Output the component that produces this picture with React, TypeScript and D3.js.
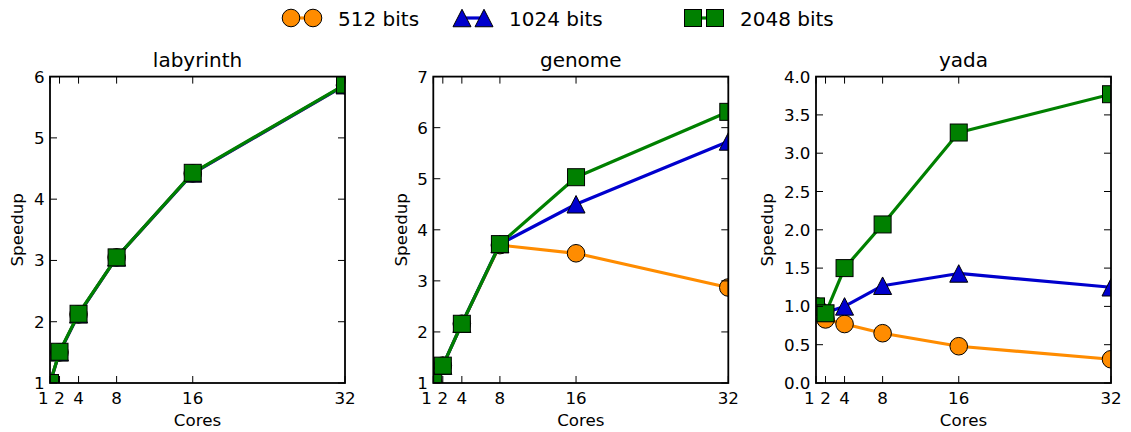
import React from "react";
import * as d3 from "d3";

// ---------- data ----------
const cores = [1, 2, 4, 8, 16, 32];
const xTicks = [1, 2, 4, 8, 16, 32];
const seriesNames = ["512 bits", "1024 bits", "2048 bits"];
const seriesColors = ["#FF8C00", "#0000CD", "#008000"];
const seriesMarkers = ["circle", "triangle", "square"];

const labyrinth512 = [1.0, 1.5, 2.12, 3.05, 4.42, 5.86];
const labyrinth1024 = [1.0, 1.5, 2.12, 3.05, 4.42, 5.86];
const labyrinth2048 = [1.0, 1.51, 2.13, 3.05, 4.43, 5.87];

const genome512 = [1.0, 1.34, 2.16, 3.7, 3.54, 2.87];
const genome1024 = [1.0, 1.34, 2.16, 3.72, 4.5, 5.73];
const genome2048 = [1.0, 1.34, 2.16, 3.72, 5.03, 6.31];

const yada512 = [1.0, 0.83, 0.77, 0.65, 0.48, 0.31];
const yada1024 = [1.0, 0.92, 1.0, 1.27, 1.43, 1.25];
const yada2048 = [1.0, 0.91, 1.5, 2.07, 3.27, 3.77];

const labyrinthTicks = [1, 2, 3, 4, 5, 6];
const genomeTicks = [1, 2, 3, 4, 5, 6, 7];
const yadaTicks = [0, 0.5, 1, 1.5, 2, 2.5, 3, 3.5, 4];

const panels = [
  { title: "labyrinth", series: [labyrinth512, labyrinth1024, labyrinth2048], yDomain: [1, 6], yTicks: labyrinthTicks, fmt: (v: number) => String(v) },
  { title: "genome", series: [genome512, genome1024, genome2048], yDomain: [1, 7], yTicks: genomeTicks, fmt: (v: number) => String(v) },
  { title: "yada", series: [yada512, yada1024, yada2048], yDomain: [0, 4], yTicks: yadaTicks, fmt: (v: number) => v.toFixed(1) },
];

// ---------- layout ----------
const W = 1131;
const H = 432;
const panelLefts = [50, 433.3, 816];
const panelWidth = 295;
const top = 76.6;
const bottom = 383;
const FONT = "DejaVu Sans, sans-serif";
const tickLen = 7;
const TICK_FS = 16.7;
const LABEL_FS = 16.7;
const TITLE_FS = 20;

function Marker({ type, x, y, color }: { type: string; x: number; y: number; color: string }) {
  const s = 17;
  if (type === "circle") return <circle cx={x} cy={y} r={s / 2 + 0.3} fill={color} stroke="#000" strokeWidth={1} />;
  if (type === "square") return <rect x={x - s / 2} y={y - s / 2} width={s} height={s} fill={color} stroke="#000" strokeWidth={1} />;
  const h = 17.5;
  const w = 18;
  const pts = `${x},${y - h / 2} ${x - w / 2},${y + h / 2} ${x + w / 2},${y + h / 2}`;
  return <polygon points={pts} fill={color} stroke="#000" strokeWidth={1} />;
}

function digitWidth(label: string, fs: number) {
  let w = 0;
  for (const c of label) w += c === "." ? 0.318 : 0.636;
  return w * fs;
}

function Panel({ idx }: { idx: number }) {
  const p = panels[idx];
  const left = panelLefts[idx];
  const right = left + panelWidth;
  const x = d3.scaleLinear().domain([1, 32]).range([left, right]);
  const y = d3.scaleLinear().domain(p.yDomain).range([bottom, top]);
  const line = d3
    .line<number>()
    .x((_, i) => x(cores[i]))
    .y((d) => y(d));
  const clipId = `clip-${idx}`;
  const maxW = Math.max(...p.yTicks.map((t) => digitWidth(p.fmt(t), TICK_FS)));
  const ylabelX = left - maxW - 16;
  const cy = (top + bottom) / 2;
  return (
    <g>
      <defs>
        <clipPath id={clipId}>
          <rect x={left} y={top} width={right - left} height={bottom - top} />
        </clipPath>
      </defs>
      <g clipPath={`url(#${clipId})`}>
        {p.series.map((vals, si) => (
          <g key={si}>
            <path d={line(vals) || ""} fill="none" stroke={seriesColors[si]} strokeWidth={3.2} strokeLinejoin="round" />
            {vals.map((v, i) => (
              <Marker key={i} type={seriesMarkers[si]} x={x(cores[i])} y={y(v)} color={seriesColors[si]} />
            ))}
          </g>
        ))}
      </g>
      {xTicks.map((t, i) => (
        <g key={"xt" + t}>
          <line x1={x(t)} x2={x(t)} y1={bottom} y2={bottom - tickLen} stroke="#000" strokeWidth={1} />
          <line x1={x(t)} x2={x(t)} y1={top} y2={top + tickLen} stroke="#000" strokeWidth={1} />
          <text x={x(t)} dx={i === 0 ? -6.8 : 0} y={404} textAnchor="middle" fontFamily={FONT} fontSize={TICK_FS} fill="#000">
            {t}
          </text>
        </g>
      ))}
      {p.yTicks.map((t) => (
        <g key={"yt" + t}>
          <line x1={left} x2={left + tickLen} y1={y(t)} y2={y(t)} stroke="#000" strokeWidth={1} />
          <line x1={right} x2={right - tickLen} y1={y(t)} y2={y(t)} stroke="#000" strokeWidth={1} />
          <text x={left - 5.5} y={y(t)} dy="0.36em" textAnchor="end" fontFamily={FONT} fontSize={TICK_FS} fill="#000">
            {p.fmt(t)}
          </text>
        </g>
      ))}
      <rect x={left} y={top} width={right - left} height={bottom - top} fill="none" stroke="#000" strokeWidth={1.8} />
      <text x={(left + right) / 2} y={67} textAnchor="middle" fontFamily={FONT} fontSize={TITLE_FS} fill="#000">
        {p.title}
      </text>
      <text x={(left + right) / 2} y={425.5} textAnchor="middle" fontFamily={FONT} fontSize={LABEL_FS} fill="#000">
        Cores
      </text>
      <text
        transform={`translate(${ylabelX},${cy}) rotate(-90)`}
        textAnchor="middle"
        fontFamily={FONT}
        fontSize={LABEL_FS}
        fill="#000"
      >
        Speedup
      </text>
    </g>
  );
}

const legendX = [291, 462, 693];

export default function App() {
  return (
    <svg width={W} height={H} style={{ position: "absolute", left: 0, top: 0, background: "#fff" }}>
      <rect x={0} y={0} width={W} height={H} fill="#fff" />
      {panels.map((_, i) => (
        <Panel key={i} idx={i} />
      ))}
      {seriesNames.map((name, si) => {
        const lx = legendX[si];
        return (
          <g key={name}>
            <line x1={lx} x2={lx + 22} y1={18} y2={18} stroke={seriesColors[si]} strokeWidth={3.2} />
            <Marker type={seriesMarkers[si]} x={lx} y={18} color={seriesColors[si]} />
            <Marker type={seriesMarkers[si]} x={lx + 22} y={18} color={seriesColors[si]} />
            <text x={lx + 47} y={26} fontFamily={FONT} fontSize={TITLE_FS} fill="#000">
              {name}
            </text>
          </g>
        );
      })}
    </svg>
  );
}
